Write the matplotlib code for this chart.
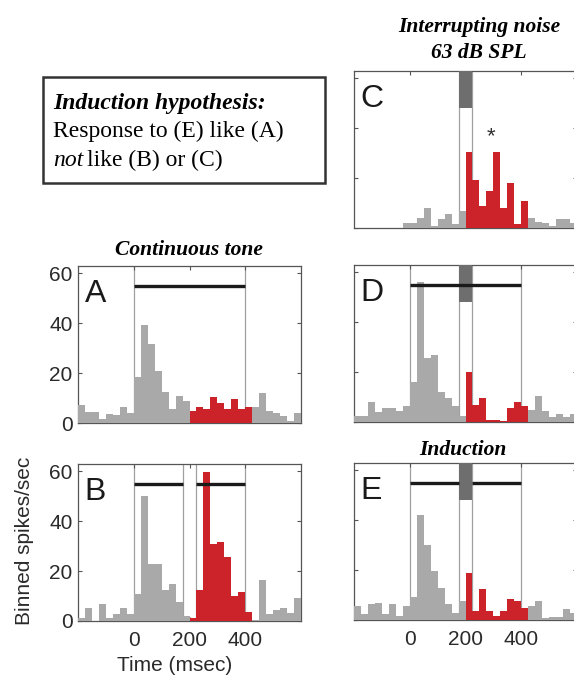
import numpy as np
import matplotlib.pyplot as plt
from matplotlib.patches import Rectangle

# PSTH bins, 25 ms wide, -200..600 ms
bin_left = np.arange(-200, 600, 25)
bin_width = 25

# binned spikes/sec
rate_a = [7.1, 4.5, 4.5, 1.5, 3.7, 3.3, 6.3, 3.9, 18.3, 39.3, 31.7, 20.7, 12.5, 5.5, 11.0, 8.7,
          4.7, 6.3, 5.5, 10.3, 7.9, 5.5, 9.5, 5.5, 6.3, 6.3, 11.9, 4.7, 3.9, 2.9, 0.7, 3.9]
rate_b = [1.3, 5.4, 0.0, 7.0, 1.3, 2.8, 5.4, 2.8, 10.9, 50.0, 23.0, 23.0, 12.5, 14.9, 7.5, 2.1,
          1.1, 12.5, 59.9, 31.0, 31.7, 25.5, 10.2, 11.8, 3.8, 0.3, 16.5, 2.8, 4.4, 5.4, 3.1, 9.4]
rate_c = [0.0, 0.0, 0.0, 0.0, 0.0, 0.0, 0.0, 2.0, 2.0, 4.0, 7.9, 0.9, 3.8, 5.5, 1.6, 7.0,
          30.3, 19.3, 8.8, 15.0, 30.3, 7.9, 18.2, 1.6, 10.9, 4.0, 2.6, 2.0, 0.9, 3.7, 3.7, 2.0]
rate_d = [2.6, 2.6, 8.2, 4.0, 5.8, 5.8, 4.3, 6.6, 15.9, 56.3, 25.6, 26.9, 11.9, 9.7, 6.6, 2.4,
          19.9, 7.0, 9.8, 0.9, 0.9, 0.4, 5.7, 7.9, 6.6, 4.9, 10.3, 4.6, 2.0, 3.3, 2.0, 3.3]
rate_e = [5.6, 2.4, 6.4, 6.9, 2.4, 6.4, 1.6, 5.6, 9.3, 42.0, 30.0, 19.7, 12.7, 6.3, 2.9, 7.7,
          18.9, 3.7, 12.5, 3.7, 1.6, 3.7, 8.5, 7.7, 4.7, 5.6, 7.7, 0.7, 1.3, 1.3, 4.4, 2.7]

# stimulus timing (ms)
tone_on, tone_off = 0, 400
noise_on, noise_off = 175, 225
red_on, red_off = 200, 425

GRAY = "#a9a9a9"
RED = "#cc2229"
BOX = "#6e6e6e"
LINE = "#a0a0a0"
SERIF = "Liberation Serif"
SANS = "Liberation Sans"

W, H = 574, 686
fig = plt.figure(figsize=(W / 100, H / 100), dpi=100)


def px_axes(left, top, width=223, height=157):
    return fig.add_axes([left / W, 1 - (top + height) / H, width / W, height / H])


def psth(ax, rates, letter, tone=None, noise=False, xlabels=False, ylabels=False):
    colors = [RED if red_on <= b < red_off else GRAY for b in bin_left]
    ax.bar(bin_left, rates, width=bin_width, align="edge", color=colors,
           linewidth=0, zorder=3)
    vlines = []
    if tone is not None:
        vlines += [tone_on, tone_off]
    if noise:
        vlines += [noise_on, noise_off]
    for v in vlines:
        ax.axvline(v, color=LINE, lw=0.9, zorder=1)
    if noise:
        ax.add_patch(Rectangle((noise_on, 48), noise_off - noise_on, 20,
                               facecolor=BOX, edgecolor="none", zorder=4))
    if tone == "full":
        ax.plot([tone_on, tone_off], [55, 55], color="#1a1a1a", lw=2.4, zorder=5,
                solid_capstyle="butt")
    elif tone == "split":
        ax.plot([tone_on, noise_on], [55, 55], color="#1a1a1a", lw=2.4, zorder=5,
                solid_capstyle="butt")
        ax.plot([noise_off, tone_off], [55, 55], color="#1a1a1a", lw=2.4, zorder=5,
                solid_capstyle="butt")
    ax.set_xlim(-200, 600)
    ax.set_ylim(0, 63)
    ax.set_xticks([0, 200, 400])
    ax.set_yticks([0, 20, 40, 60])
    ax.tick_params(direction="in", top=True, right=True, length=3, width=0.8,
                   color="#555555", labelsize=15, labelcolor="#2a2a2a", pad=4)
    ax.tick_params(axis="x", pad=7)
    if not xlabels:
        ax.set_xticklabels([])
    if not ylabels:
        ax.set_yticklabels([])
    for lab in ax.get_xticklabels() + ax.get_yticklabels():
        lab.set_family(SANS)
    for s in ax.spines.values():
        s.set_color("#555555")
        s.set_linewidth(0.9)
    ax.text(0.03, 0.77, letter, transform=ax.transAxes, fontsize=23,
            family=SANS, color="#1a1a1a", va="baseline", ha="left", zorder=6)


ax_a = px_axes(78, 266)
ax_b = px_axes(78, 464)
ax_c = px_axes(354, 71)
ax_d = px_axes(354, 265)
ax_e = px_axes(354, 463)

psth(ax_a, rate_a, "A", tone="full", ylabels=True)
psth(ax_b, rate_b, "B", tone="split", noise=False, xlabels=True, ylabels=True)
for v in [noise_on, noise_off]:
    ax_b.axvline(v, color=LINE, lw=0.9, zorder=1)
psth(ax_c, rate_c, "C", noise=True)
psth(ax_d, rate_d, "D", tone="full", noise=True)
psth(ax_e, rate_e, "E", tone="split", noise=True, xlabels=True)

ax_c.text(290, 34.5, "*", fontsize=16, family=SANS, ha="center", va="baseline",
          color="#333333")

# titles
fig.text(479 / W, 1 - 32 / H, "Interrupting noise", family=SERIF, fontsize=15.5,
         fontweight="bold", fontstyle="italic", ha="center", va="baseline")
fig.text(479 / W, 1 - 58 / H, "63 dB SPL", family=SERIF, fontsize=15.5,
         fontweight="bold", fontstyle="italic", ha="center", va="baseline")
fig.text(189 / W, 1 - 255 / H, "Continuous tone", family=SERIF, fontsize=15.5,
         fontweight="bold", fontstyle="italic", ha="center", va="baseline")
fig.text(463 / W, 1 - 455 / H, "Induction", family=SERIF, fontsize=15.5,
         fontweight="bold", fontstyle="italic", ha="center", va="baseline")

# hypothesis box
fig.patches.append(Rectangle((43 / W, 1 - 183 / H), 282 / W, 106 / H,
                             transform=fig.transFigure, facecolor="white",
                             edgecolor="#333333", lw=1.8))
fig.text(53 / W, 1 - 109 / H, "Induction hypothesis:", family=SERIF, fontsize=17,
         fontweight="bold", fontstyle="italic", va="baseline")
fig.text(53 / W, 1 - 137 / H, "Response to (E) like (A)", family=SERIF, fontsize=17,
         va="baseline")
t = fig.text(53 / W, 1 - 166 / H, "not", family=SERIF, fontsize=17,
             fontstyle="italic", va="baseline")
fig.canvas.draw()
bb = t.get_window_extent()
fig.text(bb.x1 / W + 4 / W, 1 - 166 / H, "like (B) or (C)", family=SERIF, fontsize=17,
         va="baseline")

# axis labels
fig.text(175 / W, 1 - 671 / H, "Time (msec)", family=SANS, fontsize=15,
         color="#2a2a2a", ha="center", va="baseline")
fig.text(25 / W, 1 - 541 / H, "Binned spikes/sec", family=SANS, fontsize=15,
         color="#2a2a2a", ha="center", va="center", rotation=90)

fig.savefig("out.png", dpi=100)
